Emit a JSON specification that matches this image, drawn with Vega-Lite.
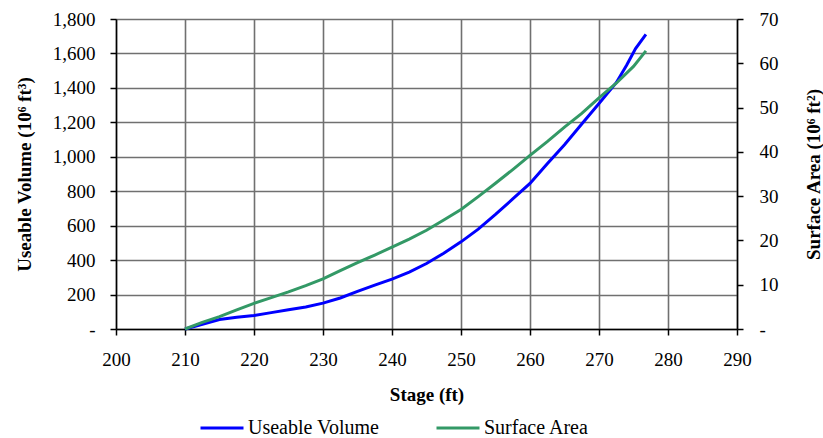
{
  "$schema": "https://vega.github.io/schema/vega-lite/v6.json",
  "width": 621,
  "height": 310,
  "autosize": {"type": "none"},
  "padding": {"left": 116, "top": 19, "right": 86, "bottom": 109},
  "config": {
    "view": {"stroke": null},
    "font": "Liberation Serif",
    "axis": {
      "labelFont": "Liberation Serif",
      "labelFontSize": 19,
      "labelColor": "#000",
      "titleFont": "Liberation Serif",
      "titleFontSize": 19,
      "titleFontWeight": "bold",
      "titleColor": "#000",
      "domainColor": "#000",
      "domainWidth": 1.5,
      "tickColor": "#000",
      "tickWidth": 1.5,
      "tickSize": 6,
      "gridColor": "#707070",
      "gridWidth": 1.6,
      "gridOpacity": 1
    },
    "legend": {
      "labelFont": "Liberation Serif",
      "labelFontSize": 20,
      "labelColor": "#000"
    }
  },
  "data": {
    "values": [
      {"series": "Useable Volume", "stage": 210, "value": 0},
      {"series": "Useable Volume", "stage": 212, "value": 22},
      {"series": "Useable Volume", "stage": 215, "value": 55},
      {"series": "Useable Volume", "stage": 217.5, "value": 68},
      {"series": "Useable Volume", "stage": 220, "value": 78},
      {"series": "Useable Volume", "stage": 222.5, "value": 95},
      {"series": "Useable Volume", "stage": 225, "value": 112},
      {"series": "Useable Volume", "stage": 227.5, "value": 128},
      {"series": "Useable Volume", "stage": 230, "value": 150},
      {"series": "Useable Volume", "stage": 232.5, "value": 180},
      {"series": "Useable Volume", "stage": 235, "value": 218},
      {"series": "Useable Volume", "stage": 237.5, "value": 255},
      {"series": "Useable Volume", "stage": 240, "value": 290},
      {"series": "Useable Volume", "stage": 242.5, "value": 330},
      {"series": "Useable Volume", "stage": 245, "value": 380},
      {"series": "Useable Volume", "stage": 247.5, "value": 440},
      {"series": "Useable Volume", "stage": 250, "value": 506},
      {"series": "Useable Volume", "stage": 252.5, "value": 580},
      {"series": "Useable Volume", "stage": 255, "value": 665},
      {"series": "Useable Volume", "stage": 257.5, "value": 755},
      {"series": "Useable Volume", "stage": 260, "value": 845},
      {"series": "Useable Volume", "stage": 262.5, "value": 960},
      {"series": "Useable Volume", "stage": 265, "value": 1070},
      {"series": "Useable Volume", "stage": 267.5, "value": 1190},
      {"series": "Useable Volume", "stage": 270, "value": 1309},
      {"series": "Useable Volume", "stage": 272.5, "value": 1430},
      {"series": "Useable Volume", "stage": 274, "value": 1531},
      {"series": "Useable Volume", "stage": 275.3, "value": 1628},
      {"series": "Useable Volume", "stage": 276.8, "value": 1711},
      {"series": "Surface Area", "stage": 210, "value": 0},
      {"series": "Surface Area", "stage": 212.5, "value": 1.5},
      {"series": "Surface Area", "stage": 215, "value": 2.8},
      {"series": "Surface Area", "stage": 217.5, "value": 4.3},
      {"series": "Surface Area", "stage": 220, "value": 5.8},
      {"series": "Surface Area", "stage": 222.5, "value": 7.1},
      {"series": "Surface Area", "stage": 225, "value": 8.4},
      {"series": "Surface Area", "stage": 227.5, "value": 9.8},
      {"series": "Surface Area", "stage": 230, "value": 11.3},
      {"series": "Surface Area", "stage": 232.5, "value": 13.2},
      {"series": "Surface Area", "stage": 235, "value": 15.0},
      {"series": "Surface Area", "stage": 237.5, "value": 16.7},
      {"series": "Surface Area", "stage": 240, "value": 18.5},
      {"series": "Surface Area", "stage": 242.5, "value": 20.3},
      {"series": "Surface Area", "stage": 245, "value": 22.3},
      {"series": "Surface Area", "stage": 247.5, "value": 24.6},
      {"series": "Surface Area", "stage": 250, "value": 27.0},
      {"series": "Surface Area", "stage": 252.5, "value": 29.9},
      {"series": "Surface Area", "stage": 255, "value": 32.9},
      {"series": "Surface Area", "stage": 257.5, "value": 36.0},
      {"series": "Surface Area", "stage": 260, "value": 39.2},
      {"series": "Surface Area", "stage": 262.5, "value": 42.3},
      {"series": "Surface Area", "stage": 265, "value": 45.6},
      {"series": "Surface Area", "stage": 267.5, "value": 48.7},
      {"series": "Surface Area", "stage": 270, "value": 52.2},
      {"series": "Surface Area", "stage": 272.5, "value": 55.5},
      {"series": "Surface Area", "stage": 275, "value": 59.3},
      {"series": "Surface Area", "stage": 276.8, "value": 62.8}
    ]
  },
  "encoding": {
    "x": {
      "field": "stage",
      "type": "quantitative",
      "scale": {"domain": [200, 290], "nice": false, "zero": false},
      "axis": {
        "title": "Stage (ft)",
        "values": [200, 210, 220, 230, 240, 250, 260, 270, 280, 290],
        "labelPadding": 15,
        "titlePadding": 16,
        "grid": true,
        "labelFlush": false
      }
    },
    "color": {
      "field": "series",
      "type": "nominal",
      "scale": {"domain": ["Useable Volume", "Surface Area"], "range": ["#0000FF", "#339966"]},
      "legend": {
        "title": null,
        "orient": "none",
        "direction": "horizontal",
        "legendX": 83,
        "legendY": 386,
        "symbolType": "stroke",
        "symbolSize": 1849,
        "symbolStrokeWidth": 3,
        "columnPadding": 50,
        "labelOffset": 3,
        "padding": 0
      }
    }
  },
  "layer": [
    {
      "transform": [{"filter": "datum.series == 'Useable Volume'"}],
      "mark": {"type": "line", "strokeWidth": 3},
      "encoding": {
        "y": {
          "field": "value",
          "type": "quantitative",
          "scale": {"domain": [0, 1800], "nice": false},
          "axis": {
            "title": "Useable Volume (10⁶ ft³)",
            "values": [0, 200, 400, 600, 800, 1000, 1200, 1400, 1600, 1800],
            "labelExpr": "datum.value == 0 ? '-' : format(datum.value, ',')",
            "labelPadding": 15,
            "titlePadding": 18,
            "grid": true
          }
        }
      }
    },
    {
      "transform": [{"filter": "datum.series == 'Surface Area'"}],
      "mark": {"type": "line", "strokeWidth": 3},
      "encoding": {
        "y": {
          "field": "value",
          "type": "quantitative",
          "scale": {"domain": [0, 70], "nice": false},
          "axis": {
            "orient": "right",
            "title": "Surface Area (10⁶ ft²)",
            "values": [0, 10, 20, 30, 40, 50, 60, 70],
            "labelExpr": "datum.value == 0 ? '-' : format(datum.value, ',')",
            "labelPadding": 16,
            "titlePadding": 26,
            "titleAngle": 270,
            "titleBaseline": "top",
            "grid": false
          }
        }
      }
    }
  ],
  "resolve": {"scale": {"y": "independent"}}
}
